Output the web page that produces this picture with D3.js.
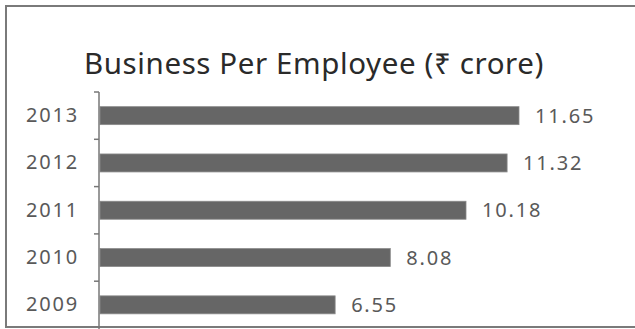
<!DOCTYPE html>
<html>
<head>
<meta charset="utf-8">
<script src="https://cdn.jsdelivr.net/npm/d3@7"></script>
<style>
  body { margin: 0; background: #fff; }
  svg { display: block; font-family: "Noto Sans", "DejaVu Sans", sans-serif; }
</style>
</head>
<body>
<svg id="chart"></svg>
<script>
const years = ["2013", "2012", "2011", "2010", "2009"];
const values = [11.65, 11.32, 10.18, 8.08, 6.55];
const title = "Business Per Employee (\u20B9 crore)";

const width = 635;
const height = 329;
const margin = { top: 92, right: 0, bottom: 0, left: 99 };

const svg = d3.select("#chart")
    .attr("width", width)
    .attr("height", height);

// frame
svg.append("path")
    .attr("d", `M${width},6 H6 V327 H${width}`)
    .attr("fill", "none")
    .attr("stroke", "#7a7a7a")
    .attr("stroke-width", 2);

// scales
let yScale = d3.scaleBand()
    .domain(years)
    .range([margin.top, margin.top + 47.3 * years.length])
    .paddingInner(0.62)
    .paddingOuter(0.31);

let xScale = d3.scaleLinear()
    .domain([0, 11.65])
    .range([margin.left, 519]);

// title
svg.append("text")
    .attr("x", 314)
    .attr("y", 74)
    .attr("text-anchor", "middle")
    .attr("font-size", 29.5)
    .attr("letter-spacing", 0.6)
    .attr("fill", "#2a2a2a")
    .text(title);

// bars
svg.append("g")
    .selectAll("rect")
    .data(values)
    .join("rect")
    .attr("x", xScale(0) + 1)
    .attr("y", (d, i) => yScale(years[i]))
    .attr("width", d => xScale(d) - xScale(0) - 1)
    .attr("height", yScale.bandwidth())
    .attr("fill", "#666")
    .attr("stroke", "#8a8a8a")
    .attr("stroke-width", 0.8);

// value labels
svg.append("g")
    .selectAll("text")
    .data(values)
    .join("text")
    .attr("x", d => xScale(d) + 16)
    .attr("y", (d, i) => yScale(years[i]) + yScale.bandwidth() / 2)
    .attr("dy", "0.36em")
    .attr("font-size", 20)
    .attr("letter-spacing", 1.8)
    .attr("fill", "#595959")
    .text(d => d.toFixed(2));

// y axis: labels at band centres, ticks at band edges
const yAxis = g => g
    .attr("transform", `translate(${margin.left},0)`)
    .call(d3.axisLeft(yScale).tickSize(0).tickPadding(20))
    .call(g => g.select(".domain").remove())
    .call(g => g.selectAll("text")
        .attr("font-size", 20)
        .attr("letter-spacing", 1.8)
        .attr("font-family", "\"Noto Sans\", \"DejaVu Sans\", sans-serif")
        .attr("fill", "#595959"));

svg.append("g").call(yAxis);

const step = yScale.step();
const top0 = margin.top;
svg.append("path")
    .attr("d", `M${margin.left},${top0} V${height}`)
    .attr("stroke", "#777")
    .attr("stroke-width", 1.5)
    .attr("fill", "none");

svg.append("g")
    .selectAll("line")
    .data(years)
    .join("line")
    .attr("x1", margin.left - 5)
    .attr("x2", margin.left)
    .attr("y1", (d, i) => top0 + i * step)
    .attr("y2", (d, i) => top0 + i * step)
    .attr("stroke", "#777")
    .attr("stroke-width", 1.5);
</script>
</body>
</html>
